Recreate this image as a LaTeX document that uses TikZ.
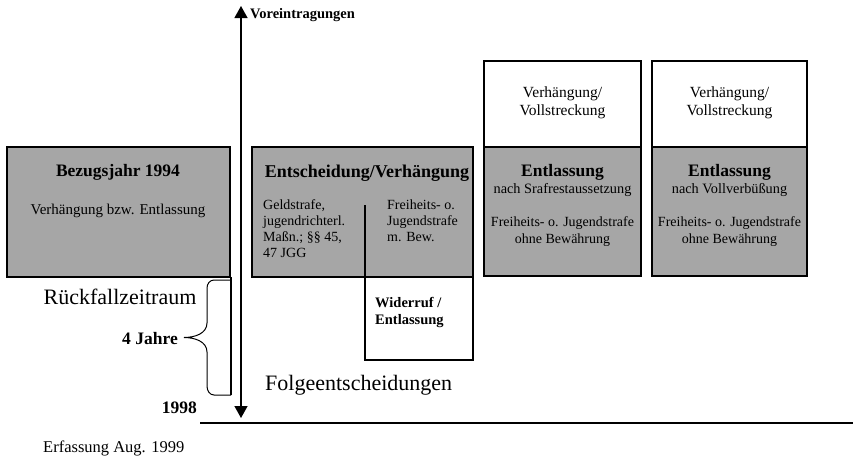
\documentclass[tikz,border=0pt]{standalone}
\usepackage{fontspec}
\setmainfont{Liberation Serif}
\usetikzlibrary{arrows.meta}
\definecolor{boxgray}{RGB}{166,166,166}
\tikzset{
  graybox/.style={draw=black, line width=1.2pt, fill=boxgray, inner sep=0pt, outer sep=0pt, anchor=north west},
  whitebox/.style={draw=black, line width=1.2pt, fill=white, inner sep=0pt, outer sep=0pt, anchor=north west},
  txt/.style={font=\fontsize{14}{16}\selectfont, inner sep=0pt},
  hdr/.style={font=\fontsize{17.5}{20}\selectfont\bfseries, inner sep=0pt},
  big/.style={font=\fontsize{22}{26}\selectfont, inner sep=0pt},
  thinline/.style={line width=1.2pt, draw=black},
  axisarrow/.style={line width=1.3pt, {Triangle[length=12pt,width=13pt]}-{Triangle[length=12pt,width=13pt]}}
}
\begin{document}
\begin{tikzpicture}[x=1pt,y=-1pt]
\useasboundingbox (0,0) rectangle (853,464);
% boxes
\node[graybox, minimum width=223pt, minimum height=130pt] (b1) at (7,147) {};
\node[graybox, minimum width=221pt, minimum height=130pt] (b2) at (252,147) {};
\node[whitebox, minimum width=108pt, minimum height=83pt] (wid) at (365,277) {};
\node[whitebox, minimum width=157pt, minimum height=86pt] (b3w) at (484,61) {};
\node[graybox, minimum width=157pt, minimum height=129pt] (b3g) at (484,147) {};
\node[whitebox, minimum width=155pt, minimum height=86pt] (b4w) at (652,61) {};
\node[graybox, minimum width=155pt, minimum height=129pt] (b4g) at (652,147) {};
% box 1 text
\node[hdr] (t1a) at (118,172) {Bezugsjahr 1994};
\node[txt, font=\fontsize{15}{17}\selectfont] (t1b) at (118,211) {Verhängung bzw. Entlassung};
% box 2 text
\node[hdr, font=\fontsize{18}{20}\selectfont\bfseries] (t2a) at (367,173) {Entscheidung/Verhängung};
\node[txt, align=left, anchor=north west] (t2b) at (263,199.5) {Geldstrafe,\\jugendrichterl.\\Maßn.; §§ 45,\\47 JGG};
\node[txt, align=left, anchor=north west] (t2c) at (387,199.5) {Freiheits- o.\\Jugendstrafe\\m. Bew.};
\coordinate (div) at (365,205);
\draw[thinline] (div) -- (wid.north west);
% Widerruf text
\node[font=\fontsize{14.5}{17}\selectfont\bfseries, inner sep=0pt, align=left, anchor=west] (t5) at (375,312.5) {Widerruf /\\Entlassung};
% box 3 text
\node[txt, align=center, font=\fontsize{15.5}{18}\selectfont] (t3a) at (562.5,102.3) {Verhängung/\\Vollstreckung};
\node[hdr] (t3b) at (562.5,172) {Entlassung};
\node[txt, font=\fontsize{14.3}{16}\selectfont] (t3c) at (562.5,190) {nach Srafrestaussetzung};
\node[txt] (t3d) at (562.5,223) {Freiheits- o. Jugendstrafe};
\node[txt] (t3e) at (562.5,240) {ohne Bewährung};
% box 4 text
\node[txt, align=center, font=\fontsize{15.5}{18}\selectfont] (t4a) at (729.5,102.3) {Verhängung/\\Vollstreckung};
\node[hdr] (t4b) at (729.5,172) {Entlassung};
\node[txt, font=\fontsize{14.3}{16}\selectfont] (t4c) at (729.5,190) {nach Vollverbüßung};
\node[txt] (t4d) at (729.5,223) {Freiheits- o. Jugendstrafe};
\node[txt] (t4e) at (729.5,240) {ohne Bewährung};
% axis
\coordinate (atop) at (241,6);
\coordinate (abot) at (241,418);
\draw[axisarrow] (abot) -- (atop);
\node[font=\fontsize{14.5}{16}\selectfont\bfseries, inner sep=0pt, anchor=west] (vor) at (250,15) {Voreintragungen};
\coordinate (lineL) at (200,423);
\coordinate (lineR) at (853,423);
\draw[thinline] (lineL) -- (lineR);
% brace
\coordinate (brT) at (231,277);
\coordinate (brB) at (231,395);
\draw[thinline] (brT) -- (brB);
\draw[line width=1pt] (231,280) -- (214,280) to[out=180,in=90] (207,288) -- (207,323)
  to[out=-90,in=0] (184,337.5) to[out=0,in=90] (207,352) -- (207,386)
  to[out=-90,in=180] (214,395) -- (brB);
% labels
\node[big] (rueck) at (120,297) {Rückfallzeitraum};
\node[hdr, anchor=east] (vier) at (178,339) {4 Jahre};
\node[big, anchor=west] (folge) at (265,385) {Folgeentscheidungen};
\node[hdr, anchor=east] (y98) at (197,408) {1998};
\node[font=\fontsize{16.5}{18}\selectfont, inner sep=0pt, anchor=west] (erf) at (43,448) {Erfassung Aug. 1999};
\end{tikzpicture}
\end{document}
